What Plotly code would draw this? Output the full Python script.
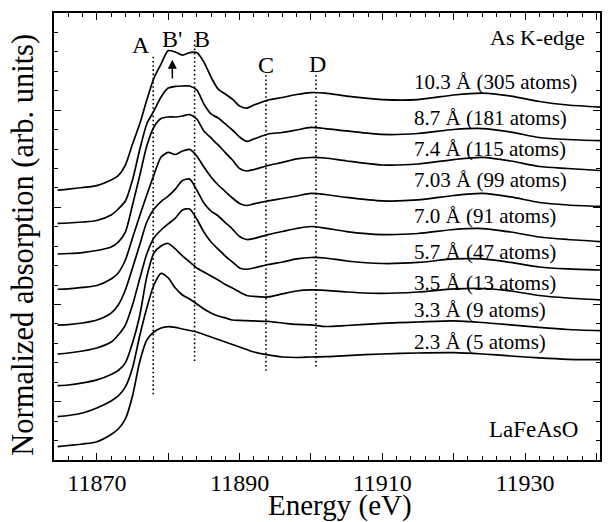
import plotly.graph_objects as go

energy = [11864.5, 11866, 11868, 11870, 11872, 11873, 11874, 11875, 11876, 11877,
          11878, 11879, 11880, 11881, 11882, 11883, 11884, 11885, 11886, 11887,
          11888, 11889, 11890, 11891, 11892, 11894, 11896, 11898, 11900, 11902,
          11905, 11910, 11915, 11920, 11924, 11928, 11932, 11936, 11940.5]

mu_103 = [0, 0.010, 0.026, 0.046, 0.103, 0.149, 0.257, 0.473, 0.679, 0.926, 1.152, 1.297, 1.435, 1.420, 1.389, 1.415, 1.415, 1.317, 1.163, 1.039, 0.988, 0.936, 0.864, 0.844, 0.875, 0.926, 0.952, 0.983, 1.003, 0.998, 0.967, 0.931, 0.931, 0.978, 0.998, 0.967, 0.911, 0.875, 0.854]
mu_87 = [0, 0.003, 0.013, 0.029, 0.085, 0.147, 0.229, 0.446, 0.754, 1.022, 1.156, 1.300, 1.392, 1.408, 1.413, 1.413, 1.372, 1.228, 1.125, 1.084, 1.022, 0.960, 0.888, 0.842, 0.867, 0.919, 0.934, 0.960, 0.986, 0.975, 0.950, 0.914, 0.924, 0.965, 0.975, 0.939, 0.883, 0.862, 0.850]
mu_74 = [0, 0.005, 0.015, 0.036, 0.072, 0.123, 0.226, 0.504, 0.803, 1.111, 1.307, 1.394, 1.410, 1.410, 1.420, 1.435, 1.389, 1.266, 1.194, 1.122, 1.044, 0.967, 0.880, 0.854, 0.869, 0.911, 0.942, 0.978, 0.993, 0.988, 0.957, 0.916, 0.926, 0.972, 0.995, 0.957, 0.900, 0.880, 0.859]
mu_703 = [0, 0.003, 0.019, 0.039, 0.106, 0.168, 0.301, 0.528, 0.754, 0.970, 1.176, 1.361, 1.408, 1.387, 1.423, 1.439, 1.372, 1.258, 1.156, 1.073, 1.006, 0.939, 0.883, 0.862, 0.878, 0.909, 0.934, 0.960, 0.986, 0.975, 0.945, 0.909, 0.919, 0.965, 0.986, 0.950, 0.893, 0.867, 0.852]
mu_70 = [0, 0.005, 0.021, 0.051, 0.123, 0.206, 0.360, 0.587, 0.823, 1.060, 1.194, 1.271, 1.327, 1.399, 1.487, 1.502, 1.389, 1.255, 1.173, 1.122, 1.055, 0.988, 0.911, 0.880, 0.890, 0.931, 0.962, 0.993, 1.014, 0.998, 0.962, 0.931, 0.942, 0.983, 0.993, 0.957, 0.906, 0.880, 0.859]
mu_57 = [0, 0.010, 0.031, 0.062, 0.123, 0.196, 0.298, 0.504, 0.772, 1.029, 1.194, 1.276, 1.338, 1.399, 1.482, 1.492, 1.389, 1.255, 1.152, 1.080, 1.008, 0.947, 0.885, 0.872, 0.885, 0.921, 0.947, 0.978, 0.993, 0.988, 0.957, 0.931, 0.942, 0.978, 0.978, 0.942, 0.895, 0.875, 0.864]
mu_35 = [0, 0.007, 0.028, 0.059, 0.115, 0.156, 0.234, 0.439, 0.717, 1.119, 1.365, 1.438, 1.463, 1.407, 1.335, 1.273, 1.211, 1.170, 1.129, 1.088, 1.041, 1.005, 0.964, 0.928, 0.918, 0.913, 0.944, 0.974, 0.985, 0.980, 0.964, 0.949, 0.964, 0.995, 1.000, 0.974, 0.928, 0.902, 0.882]
mu_33 = [0, 0.012, 0.038, 0.090, 0.162, 0.213, 0.306, 0.501, 0.830, 1.119, 1.355, 1.474, 1.427, 1.324, 1.252, 1.211, 1.160, 1.108, 1.067, 1.036, 1.016, 0.995, 0.990, 0.988, 0.985, 0.980, 0.964, 0.949, 0.944, 0.928, 0.938, 0.961, 0.974, 0.985, 0.969, 0.944, 0.918, 0.897, 0.885]
mu_23 = [0, 0.012, 0.028, 0.051, 0.126, 0.182, 0.285, 0.522, 0.872, 1.098, 1.180, 1.221, 1.235, 1.227, 1.211, 1.196, 1.180, 1.155, 1.129, 1.103, 1.077, 1.052, 1.026, 1.000, 0.974, 0.944, 0.923, 0.918, 0.923, 0.926, 0.938, 0.954, 0.964, 0.967, 0.954, 0.933, 0.913, 0.899, 0.895]

spectra = [mu_103, mu_87, mu_74, mu_703, mu_70, mu_57, mu_35, mu_33, mu_23]
offsets = [2.178, 1.836, 1.520, 1.157, 0.789, 0.491, 0.165, -0.154, -0.463]
labels = ["10.3 Å (305 atoms)", "8.7 Å (181 atoms)", "7.4 Å (115 atoms)",
          "7.03 Å (99 atoms)", "7.0 Å (91 atoms)", "5.7 Å (47 atoms)",
          "3.5 Å (13 atoms)", "3.3 Å (9 atoms)", "2.3 Å (5 atoms)"]
label_y = [3.285, 2.916, 2.603, 2.281, 1.911, 1.540, 1.218, 0.944, 0.617]
label_x = 11914.2

# feature markers: name, energy, top, bottom, label x, label y
features = ["A", "B", "C", "D"]
feature_e = [11877.9, 11883.7, 11893.7, 11900.7]
feature_top = [3.55, 3.72, 3.36, 3.36]
feature_bot = [0.06, 0.395, 0.31, 0.35]
feature_lx = [11876.25, 11884.8, 11893.65, 11900.9]
feature_ly = [3.67, 3.73, 3.47, 3.475]

FONT = "Liberation Serif, Times New Roman, serif"

fig = go.Figure()
for mu, off in zip(spectra, offsets):
    fig.add_trace(go.Scatter(x=energy, y=[v + off for v in mu], mode="lines",
                             line=dict(color="black", width=1.7, shape="spline", smoothing=0.7),
                             showlegend=False, hoverinfo="skip"))

for e, t, b in zip(feature_e, feature_top, feature_bot):
    fig.add_trace(go.Scatter(x=[e, e], y=[t, b], mode="lines",
                             line=dict(color="black", width=1.6, dash="1.6px,2.6px"),
                             showlegend=False, hoverinfo="skip"))

ann = []
for name, lx, ly in zip(features, feature_lx, feature_ly):
    ann.append(dict(x=lx, y=ly, xref="x", yref="y", text=name, showarrow=False,
                    font=dict(family=FONT, size=24, color="black")))
ann.append(dict(x=11880.6, y=3.73, xref="x", yref="y", text="B'", showarrow=False,
                font=dict(family=FONT, size=24, color="black")))
ann.append(dict(x=11880.58, y=3.52, ax=11880.58, ay=3.31, xref="x", yref="y",
                axref="x", ayref="y", text="", showarrow=True, arrowhead=2,
                arrowsize=1.2, arrowwidth=1.5, arrowcolor="black"))
for lab, ly in zip(labels, label_y):
    ann.append(dict(x=label_x, y=ly, xref="x", yref="y", text=lab, showarrow=False,
                    xanchor="left", font=dict(family=FONT, size=21, color="black")))
ann.append(dict(x=11938.65, y=3.748, xref="x", yref="y", text="As K-edge", showarrow=False,
                xanchor="right", font=dict(family=FONT, size=22, color="black")))
ann.append(dict(x=11937.7, y=-0.291, xref="x", yref="y", text="LaFeAsO", showarrow=False,
                xanchor="right", font=dict(family=FONT, size=23, color="black")))
ann.append(dict(x=0.523, y=-0.102, xref="paper", yref="paper", text="Energy (eV)",
                showarrow=False, xanchor="center", yanchor="middle",
                font=dict(family=FONT, size=29, color="black")))
ann.append(dict(x=-0.0584, y=0.482, xref="paper", yref="paper",
                text="Normalized absorption (arb. units)", textangle=-90,
                xanchor="center", yanchor="middle",
                showarrow=False, font=dict(family=FONT, size=30.5, color="black")))

xt = [11870, 11880, 11890, 11900, 11910, 11920, 11930, 11940]
xtt = ["11870", "", "11890", "", "11910", "", "11930", ""]

fig.update_layout(
    width=613, height=522,
    margin=dict(l=54, r=11, t=13, b=62),
    paper_bgcolor="white", plot_bgcolor="white",
    annotations=ann,
    xaxis=dict(range=[11864, 11940.5], showline=True, linecolor="black", linewidth=1.5,
               mirror="allticks", ticks="inside", ticklen=7, tickwidth=1.3, tickcolor="black",
               tickmode="array", tickvals=xt, ticktext=xtt, showgrid=False, zeroline=False,
               tickfont=dict(family=FONT, size=24, color="black"),
               minor=dict(tickmode="linear", tick0=11864, dtick=2, ticks="inside",
                          ticklen=4, tickwidth=1.3, tickcolor="black", showgrid=False)),
    yaxis=dict(range=[-0.6, 4.0], showline=True, linecolor="black", linewidth=1.5,
               mirror="allticks", ticks="inside", ticklen=7, tickwidth=1.3, tickcolor="black",
               tickmode="linear", tick0=0, dtick=1, showticklabels=False,
               showgrid=False, zeroline=False,
               minor=dict(tickmode="linear", tick0=0, dtick=0.2, ticks="inside",
                          ticklen=4, tickwidth=1.3, tickcolor="black", showgrid=False)),
)

fig.write_html("out.html")
